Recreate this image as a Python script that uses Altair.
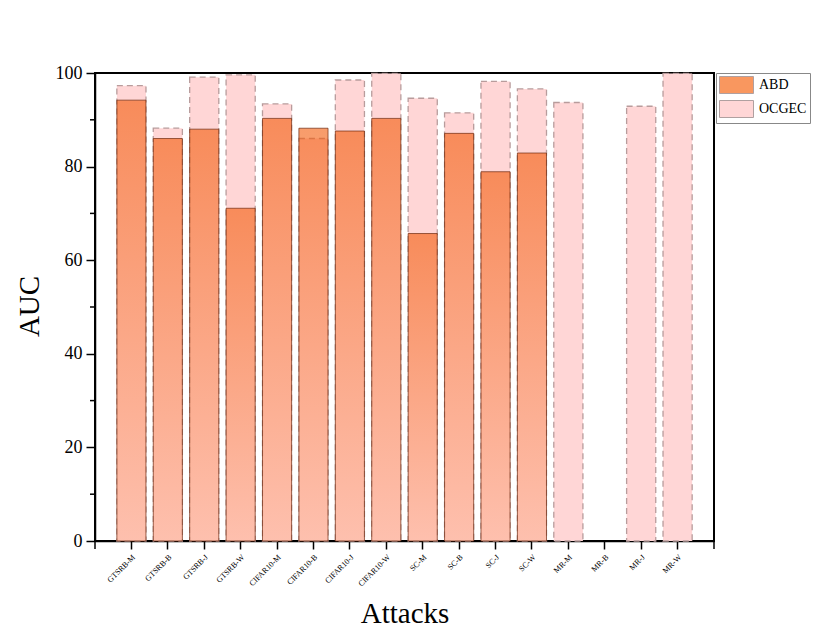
import altair as alt
import pandas as pd

categories = ["GTSRB-M", "GTSRB-B", "GTSRB-J", "GTSRB-W",
              "CIFAR10-M", "CIFAR10-B", "CIFAR10-J", "CIFAR10-W",
              "SC-M", "SC-B", "SC-J", "SC-W",
              "MR-M", "MR-B", "MR-J", "MR-W"]
abd = [94.2, 86.0, 88.0, 71.1, 90.3, 88.2, 87.6, 90.3,
       65.7, 87.1, 78.9, 82.9, None, None, None, None]
ocgec = [97.3, 88.2, 99.1, 99.6, 93.4, 86.0, 98.5, 99.9,
         94.6, 91.5, 98.2, 96.6, 93.7, None, 92.9, 99.9]
series = ["ABD", "OCGEC"]
y_ticks = [0, 20, 40, 60, 80, 100]
y_minor = [10, 30, 50, 70, 90]

rows = []
for c, a, o in zip(categories, abd, ocgec):
    if a is not None:
        rows.append({"attack": c, "series": "ABD", "auc": a})
    if o is not None:
        rows.append({"attack": c, "series": "OCGEC", "auc": o})
df = pd.DataFrame(rows)
minor_df = pd.DataFrame({"auc": y_minor})
one_df = pd.DataFrame({"k": [0]})

FONT = "Liberation Serif"
W, H = 619, 468

xscale = alt.Scale(domain=categories, paddingInner=0.2, paddingOuter=0.6)
yscale = alt.Scale(domain=[0, 100], nice=False)

x_axis = alt.Axis(title="Attacks", labelAngle=-45, labelAlign="right",
                  labelBaseline="top", labelFontSize=8, labelPadding=4,
                  tickSize=8, tickWidth=1.5, tickColor="black",
                  domainColor="black", domainWidth=1.5,
                  titleFontSize=29, titleFont=FONT, labelFont=FONT,
                  titleFontWeight="normal", titleY=81,
                  titleBaseline="alphabetic", labelColor="black",
                  titleColor="black")
y_axis = alt.Axis(title="AUC", values=y_ticks, grid=False,
                  tickSize=9, tickWidth=1.5, tickColor="black",
                  domainColor="black", domainWidth=1.5,
                  labelFontSize=18, labelFont=FONT, labelPadding=4,
                  labelColor="black", titleColor="black",
                  titleFontSize=29, titleFont=FONT,
                  titleFontWeight="normal", titleX=-66, titleY=233,
                  titleAlign="center", titleBaseline="middle")

x_enc = alt.X("attack:N", scale=xscale, sort=categories, axis=x_axis)
y_enc = alt.Y("auc:Q", scale=yscale, axis=y_axis)

base = alt.Chart(df)

ocgec_layer = base.transform_filter(alt.datum.series == "OCGEC").mark_bar(
    fill="#FFD6D6", stroke="#B89C9C", strokeWidth=1.3, strokeDash=[6, 4]
).encode(x=x_enc, y=y_enc)

abd_grad = alt.Gradient(
    gradient="linear", x1=0, x2=0, y1=0, y2=1,
    stops=[alt.GradientStop(color="#F35A08", offset=0),
           alt.GradientStop(color="#FDB193", offset=1)])

abd_layer = base.transform_filter(alt.datum.series == "ABD").mark_bar(
    fill=abd_grad, fillOpacity=0.6, stroke="#6E2A10", strokeOpacity=0.7,
    strokeWidth=1
).encode(x=x_enc, y=y_enc)

legend_layer = base.mark_bar(opacity=0).encode(
    x=x_enc, y=y_enc,
    fill=alt.Fill("series:N", scale=alt.Scale(domain=series,
                                              range=["#F9975F", "#FFD6D6"]),
                  legend=alt.Legend(title=None, orient="none", legendX=621,
                                    legendY=0, symbolType="M-1,-1H3V1H-1Z",
                                    symbolSize=289, symbolOpacity=1,
                                    symbolStrokeColor="#B0A0A0",
                                    symbolStrokeWidth=1, labelFont=FONT,
                                    labelFontSize=14, labelColor="black",
                                    strokeColor="#888888", padding=3,
                                    rowPadding=2, labelOffset=22,
                                    fillColor="white"))
)

minor_layer = alt.Chart(minor_df).mark_rule(color="black", strokeWidth=1.5).encode(
    y=alt.Y("auc:Q", scale=yscale, axis=y_axis),
    x=alt.value(-5), x2=alt.value(0))

end_left = alt.Chart(one_df).mark_rule(color="black", strokeWidth=1.5).encode(
    x=alt.value(0), y=alt.value(H), y2=alt.value(H + 8))
end_right = alt.Chart(one_df).mark_rule(color="black", strokeWidth=1.5).encode(
    x=alt.value(W), y=alt.value(H), y2=alt.value(H + 8))

chart = alt.layer(ocgec_layer, abd_layer, legend_layer, minor_layer,
                  end_left, end_right).properties(
    width=W, height=H,
    autosize=alt.AutoSizeParams(type="none"),
    padding={"left": 87, "top": 65, "right": 105, "bottom": 87},
).configure_view(stroke="black", strokeWidth=2).configure_axis(labelFont=FONT)

chart.save("out.html", embed_options={"renderer": "svg", "actions": False})
